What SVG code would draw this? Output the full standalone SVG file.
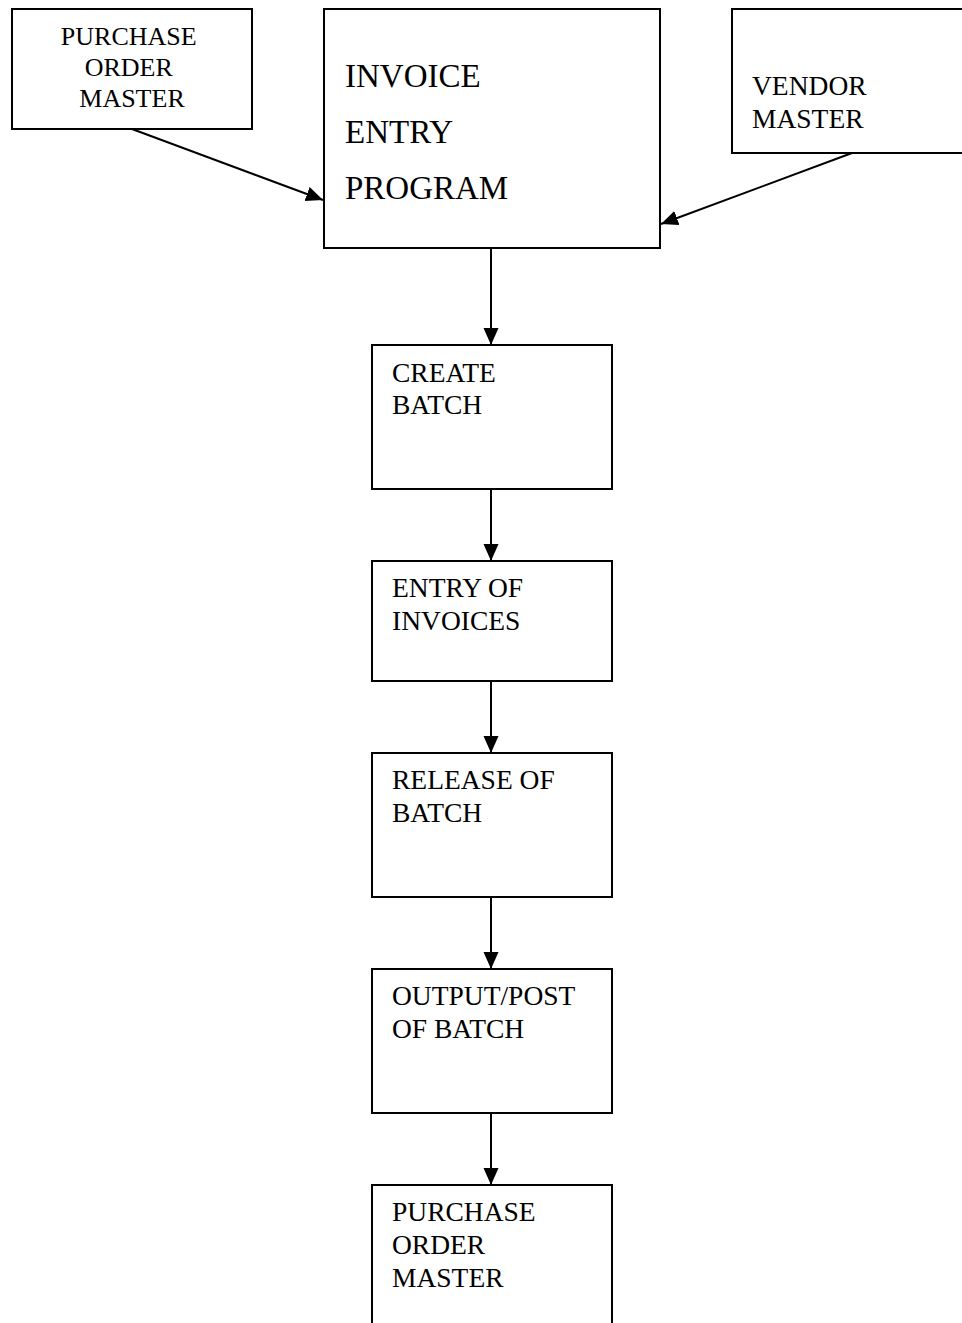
<svg xmlns="http://www.w3.org/2000/svg" width="962" height="1323" viewBox="0 0 962 1323">
  <style>
    .box { fill: #ffffff; stroke: #000000; stroke-width: 2; }
    .edge { stroke: #000000; stroke-width: 2; fill: none; marker-end: url(#arrow); }
    .lbl { font-family: "Liberation Serif", "Times New Roman", serif; font-size: 27.5px; fill: #000000; }
    .small { font-size: 26px; }
    .big { font-size: 33px; }
  </style>
  <defs>
    <marker id="arrow" markerUnits="userSpaceOnUse" markerWidth="18" markerHeight="16" refX="17" refY="7.5" orient="auto">
      <path d="M0,0 L17,7.5 L0,15 Z" fill="#000000"/>
    </marker>
  </defs>
  <rect width="962" height="1323" fill="#ffffff"/>

  <g id="connectors">
    <line class="edge" x1="132" y1="129" x2="323" y2="200"/>
    <line class="edge" x1="852" y1="153" x2="661" y2="224"/>
    <line class="edge" x1="491" y1="248" x2="491" y2="345"/>
    <line class="edge" x1="491" y1="489" x2="491" y2="561"/>
    <line class="edge" x1="491" y1="681" x2="491" y2="753"/>
    <line class="edge" x1="491" y1="897" x2="491" y2="969"/>
    <line class="edge" x1="491" y1="1113" x2="491" y2="1185"/>
  </g>

  <g id="po-master-top">
    <rect class="box" x="12" y="9" width="240" height="120"/>
    <text class="lbl small" text-anchor="middle">
      <tspan x="132" y="45">PURCHASE</tspan>
      <tspan x="132" y="76">ORDER</tspan>
      <tspan x="132" y="107">MASTER</tspan>
    </text>
  </g>

  <g id="invoice-entry-program">
    <rect class="box" x="324" y="9" width="336" height="239"/>
    <text class="lbl big">
      <tspan x="345" y="87">INVOICE</tspan>
      <tspan x="345" y="143">ENTRY</tspan>
      <tspan x="345" y="199">PROGRAM</tspan>
    </text>
  </g>

  <g id="vendor-master">
    <rect class="box" x="732" y="9" width="240" height="144"/>
    <text class="lbl">
      <tspan x="752" y="95">VENDOR</tspan>
      <tspan x="752" y="128">MASTER</tspan>
    </text>
  </g>

  <g id="create-batch">
    <rect class="box" x="372" y="345" width="240" height="144"/>
    <text class="lbl">
      <tspan x="392" y="382">CREATE</tspan>
      <tspan x="392" y="414">BATCH</tspan>
    </text>
  </g>

  <g id="entry-of-invoices">
    <rect class="box" x="372" y="561" width="240" height="120"/>
    <text class="lbl">
      <tspan x="392" y="597">ENTRY OF</tspan>
      <tspan x="392" y="630">INVOICES</tspan>
    </text>
  </g>

  <g id="release-of-batch">
    <rect class="box" x="372" y="753" width="240" height="144"/>
    <text class="lbl">
      <tspan x="392" y="789">RELEASE OF</tspan>
      <tspan x="392" y="822">BATCH</tspan>
    </text>
  </g>

  <g id="output-post-of-batch">
    <rect class="box" x="372" y="969" width="240" height="144"/>
    <text class="lbl">
      <tspan x="392" y="1005">OUTPUT/POST</tspan>
      <tspan x="392" y="1038">OF BATCH</tspan>
    </text>
  </g>

  <g id="po-master-bottom">
    <rect class="box" x="372" y="1185" width="240" height="160"/>
    <text class="lbl">
      <tspan x="392" y="1221">PURCHASE</tspan>
      <tspan x="392" y="1254">ORDER</tspan>
      <tspan x="392" y="1287">MASTER</tspan>
    </text>
  </g>
</svg>
